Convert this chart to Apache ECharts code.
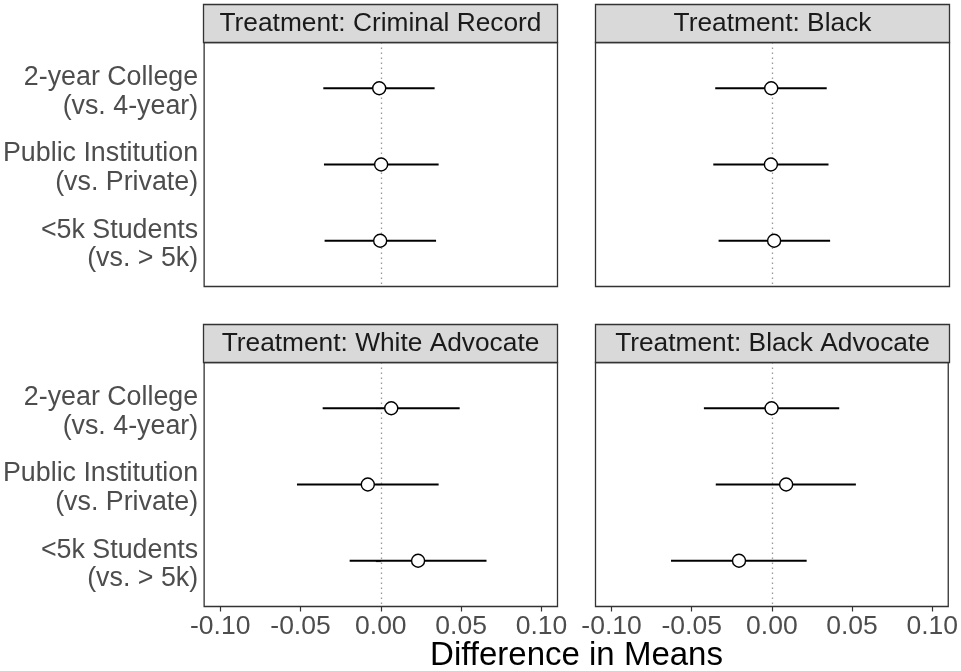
<!DOCTYPE html>
<html><head><meta charset="utf-8">
<script src="https://cdn.jsdelivr.net/npm/echarts@6/dist/echarts.min.js"></script>
<style>html,body{margin:0;padding:0;background:#fff}#c{width:961px;height:671px}</style>
</head><body><div id="c"></div>
<script>
const rowLabels = ['2-year College\n(vs. 4-year)', 'Public Institution\n(vs. Private)', '<5k Students\n(vs. > 5k)'];
const rowPos = [1, 2, 3];
const panelTitles = ['Treatment: Criminal Record', 'Treatment: Black', 'Treatment: White Advocate', 'Treatment: Black Advocate'];
const xTicks = [-0.10, -0.05, 0.00, 0.05, 0.10];
const xTitle = 'Difference in Means';

const estCriminal = [-0.0010, 0.0002, -0.0004];
const loCriminal  = [-0.0358, -0.0354, -0.0350];
const hiCriminal  = [0.0335, 0.0360, 0.0344];

const estBlack = [-0.0008, -0.0010, 0.0010];
const loBlack  = [-0.0356, -0.0368, -0.0335];
const hiBlack  = [0.0337, 0.0348, 0.0358];

const estWhiteAdv = [0.0065, -0.0081, 0.0232];
const loWhiteAdv  = [-0.0362, -0.0522, -0.0194];
const hiWhiteAdv  = [0.0491, 0.0360, 0.0658];

const estBlackAdv = [-0.0002, 0.0089, -0.0205];
const loBlackAdv  = [-0.0424, -0.0350, -0.0629];
const hiBlackAdv  = [0.0420, 0.0524, 0.0217];

const panelData = [
  [estCriminal, loCriminal, hiCriminal],
  [estBlack, loBlack, hiBlack],
  [estWhiteAdv, loWhiteAdv, hiWhiteAdv],
  [estBlackAdv, loBlackAdv, hiBlackAdv]
];

const FONT = "'Liberation Sans', Arial, sans-serif";
const gridPos = [
  {left: 203.5, top: 42.5, width: 354, height: 244},
  {left: 595.5, top: 42.5, width: 354, height: 244},
  {left: 203.5, top: 362.5, width: 354, height: 244},
  {left: 595.5, top: 362.5, width: 354, height: 244}
];
const stripH = 38;
const labelNudge = 0.05; // small downward offset of two-line row labels (ggplot-like vertical centring)

const chart = echarts.init(document.getElementById('c'), null, {renderer: 'canvas'});

const grid = gridPos.map(g => Object.assign({}, g, {show: true, borderColor: '#333333', borderWidth: 1.3, backgroundColor: '#ffffff', containLabel: false}));

const xAxis = gridPos.map((g, i) => ({
  type: 'value', gridIndex: i, min: -0.11, max: 0.11,
  splitLine: {show: false},
  axisLine: {show: false},
  axisTick: {show: i >= 2, length: 5, lineStyle: {color: '#333333', width: 1.2}, customValues: xTicks},
  axisLabel: {show: i >= 2, customValues: xTicks, formatter: v => v.toFixed(2), color: '#4D4D4D', fontSize: 26.5, fontFamily: FONT, margin: 7}
}));

const yAxis = gridPos.map((g, i) => ({
  type: 'value', gridIndex: i, min: 0.4, max: 3.6, inverse: true,
  splitLine: {show: false},
  axisLine: {show: false},
  axisTick: {show: i % 2 === 0, length: 5, lineStyle: {color: '#333333', width: 1.2}, customValues: rowPos},
  axisLabel: {show: i % 2 === 0, customValues: rowPos.map(r => r + labelNudge), formatter: v => rowLabels[Math.round(v) - 1],
    color: '#4D4D4D', fontSize: 26.8, fontFamily: FONT, lineHeight: 28.5, margin: 6, align: 'right'}
}));

const series = [];
panelData.forEach((pd, i) => {
  const [est, lo, hi] = pd;
  series.push({
    type: 'custom', xAxisIndex: i, yAxisIndex: i, z: 3,
    data: rowPos.map((r, k) => [lo[k], hi[k], r]),
    renderItem: (params, api) => {
      const a = api.coord([api.value(0), api.value(2)]);
      const b = api.coord([api.value(1), api.value(2)]);
      return {type: 'line', shape: {x1: a[0], y1: a[1], x2: b[0], y2: b[1]}, style: {stroke: '#000', lineWidth: 1.8}};
    },
    silent: true
  });
  series.push({
    type: 'scatter', xAxisIndex: i, yAxisIndex: i, z: 4,
    data: rowPos.map((r, k) => [est[k], r]),
    symbol: 'circle', symbolSize: 13,
    itemStyle: {color: '#ffffff', borderColor: '#000000', borderWidth: 1.4, opacity: 1},
    silent: true,
    markLine: {
      silent: true, symbol: 'none', z: 1,
      label: {show: false},
      lineStyle: {color: '#999999', type: [1.5, 3.5], width: 1.3},
      data: [{xAxis: 0}]
    }
  });
});

const graphic = [];
gridPos.forEach((g, i) => {
  graphic.push({
    type: 'rect', z: 10,
    shape: {x: g.left, y: g.top - stripH, width: g.width, height: stripH},
    style: {fill: '#D9D9D9', stroke: '#333333', lineWidth: 1.3}
  });
  graphic.push({
    type: 'text', z: 11,
    x: g.left + g.width / 2, y: g.top - stripH / 2,
    style: {text: panelTitles[i], font: '26.3px ' + FONT, fill: '#1A1A1A', align: 'center', verticalAlign: 'middle'}
  });
});
graphic.push({
  type: 'text', z: 11,
  x: (gridPos[2].left + gridPos[3].left + gridPos[3].width) / 2, y: 656,
  style: {text: xTitle, font: '33px ' + FONT, fill: '#000000', align: 'center', verticalAlign: 'middle'}
});

chart.setOption({
  animation: false,
  backgroundColor: '#ffffff',
  grid, xAxis, yAxis, series, graphic
});
</script></body></html>
